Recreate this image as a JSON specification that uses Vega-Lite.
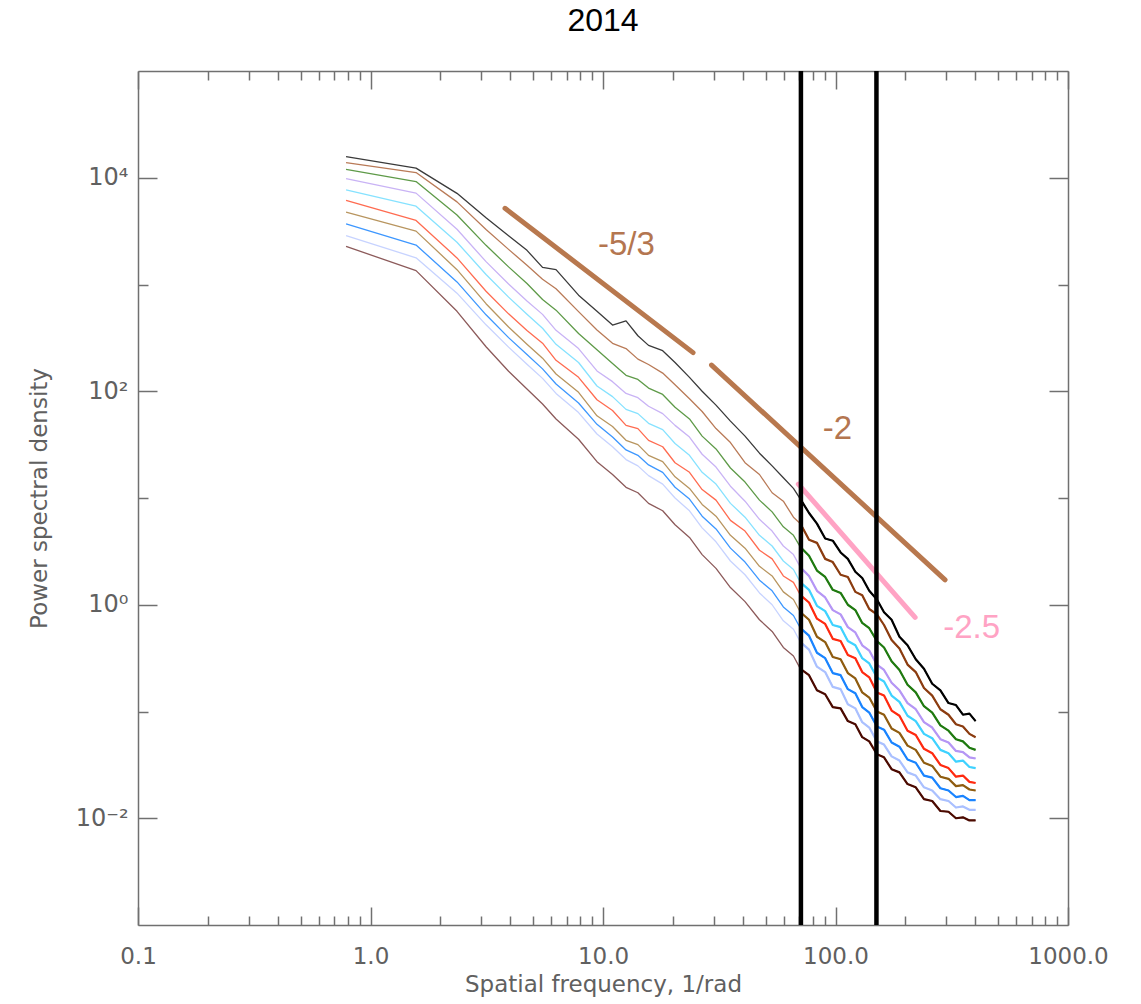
{
"$schema":"https://vega.github.io/schema/vega-lite/v6.json",
"width":930,"height":854,
"autosize":{"type":"none"},
"padding":{"left":138,"top":71,"right":73,"bottom":79},
"background":"white",
"title":{"text":"2014","fontSize":32,"font":"Liberation Sans","fontWeight":"normal","color":"#000000","offset":31,"anchor":"middle"},
"config":{"view":{"stroke":null},"axis":{"grid":false,"domainColor":"#707070","tickColor":"#707070","domainWidth":1.5,"tickWidth":1.5,"labelFont":"DejaVu Sans","labelColor":"#606060","labelFontSize":23,"titleFont":"DejaVu Sans","titleColor":"#606060","titleFontSize":23,"titleFontWeight":"normal"}},
"datasets":{
"spectra":[
{"s":"s1","x":[0.785,1.57,2.355,3.14,3.925,4.71,5.495,6.28,7.85,9.42,10.99,12.56,14.13,15.7,18.06,20.41,23.55,26.69,30.62,35.33,40.82,47.1,53.38,59.66,65.94,70.65,76.93,83.21,90.28,97.34,105.2,113.0,121.7,130.3,139.7,150.7,161.7,174.3,188.4,204.1,221.4,240.2,260.6,282.6,306.2,329.7,353.3,376.8,400.4],"y":[15740,12300,7145,4217,2864,2089,1445,1380,794,562,417,457,331,269,240,186,135,100,74.1,52.5,38.0,26.3,20.0,15.5,12.3,9.77,7.24,5.75,4.17,3.98,3.09,2.69,2.04,1.78,1.35,1.12,0.851,0.724,0.501,0.417,0.309,0.251,0.182,0.158,0.120,0.115,0.0933,0.0955,0.0813]},
{"s":"s2","x":[0.785,1.57,2.355,3.14,3.925,4.71,5.495,6.28,7.85,9.42,10.99,12.56,14.13,15.7,18.06,20.41,23.55,26.69,30.62,35.33,40.82,47.1,53.38,59.66,65.94,70.65,76.93,83.21,90.28,97.34,105.2,113.0,121.7,130.3,139.7,150.7,161.7,174.3,188.4,204.1,221.4,240.2,260.6,282.6,306.2,329.7,353.3,376.8,400.4],"y":[13840,11190,5940,3281,2133,1514,1122,912,557,375,281,251,200,178,148,115,85.1,64.6,44.7,33.1,21.4,16.6,11.2,9.33,6.61,5.75,4.07,3.80,2.69,2.51,1.91,1.82,1.32,1.23,0.912,0.813,0.646,0.468,0.389,0.275,0.234,0.166,0.141,0.105,0.0933,0.0759,0.0724,0.0617,0.0575]},
{"s":"s3","x":[0.785,1.57,2.355,3.14,3.925,4.71,5.495,6.28,7.85,9.42,10.99,12.56,14.13,15.7,18.06,20.41,23.55,26.69,30.62,35.33,40.82,47.1,53.38,59.66,65.94,70.65,76.93,83.21,90.28,97.34,105.2,113.0,121.7,130.3,139.7,150.7,161.7,174.3,188.4,204.1,221.4,240.2,260.6,282.6,306.2,329.7,353.3,376.8,400.4],"y":[12000,9204,4477,2328,1462,1021,724,575,347,245,182,141,129,107,93.3,70.8,55.0,38.0,28.8,19.1,14.1,9.55,7.41,5.37,4.47,3.47,2.88,2.09,1.82,1.38,1.29,1.00,0.891,0.676,0.603,0.457,0.398,0.295,0.245,0.178,0.151,0.112,0.0977,0.0741,0.0661,0.0550,0.0525,0.0457,0.0437]},
{"s":"s4","x":[0.785,1.57,2.355,3.14,3.925,4.71,5.495,6.28,7.85,9.42,10.99,12.56,14.13,15.7,18.06,20.41,23.55,26.69,30.62,35.33,40.82,47.1,53.38,59.66,65.94,70.65,76.93,83.21,90.28,97.34,105.2,113.0,121.7,130.3,139.7,150.7,161.7,174.3,188.4,204.1,221.4,240.2,260.6,282.6,306.2,329.7,353.3,376.8,400.4],"y":[9795,7178,3289,1637,1009,701,525,372,251,155,123,95.5,87.1,72.4,61.7,47.9,37.2,25.7,19.5,12.9,9.33,6.31,4.90,3.55,2.95,2.24,1.86,1.35,1.17,0.891,0.813,0.617,0.550,0.417,0.372,0.275,0.245,0.186,0.158,0.120,0.105,0.0794,0.0708,0.0550,0.0513,0.0427,0.0417,0.0372,0.0363]},
{"s":"s5","x":[0.785,1.57,2.355,3.14,3.925,4.71,5.495,6.28,7.85,9.42,10.99,12.56,14.13,15.7,18.06,20.41,23.55,26.69,30.62,35.33,40.82,47.1,53.38,59.66,65.94,70.65,76.93,83.21,90.28,97.34,105.2,113.0,121.7,130.3,139.7,150.7,161.7,174.3,188.4,204.1,221.4,240.2,260.6,282.6,306.2,329.7,353.3,376.8,400.4],"y":[7709,5420,2489,1242,762,526,389,275,186,112,89.1,67.6,61.7,50.1,43.7,32.4,25.1,17.4,13.5,8.91,6.61,4.47,3.55,2.57,2.14,1.62,1.38,0.977,0.871,0.646,0.617,0.457,0.417,0.316,0.282,0.209,0.191,0.141,0.123,0.0912,0.0813,0.0617,0.0562,0.0437,0.0407,0.0339,0.0347,0.0302,0.0295]},
{"s":"s6","x":[0.785,1.57,2.355,3.14,3.925,4.71,5.495,6.28,7.85,9.42,10.99,12.56,14.13,15.7,18.06,20.41,23.55,26.69,30.62,35.33,40.82,47.1,53.38,59.66,65.94,70.65,76.93,83.21,90.28,97.34,105.2,113.0,121.7,130.3,139.7,150.7,161.7,174.3,188.4,204.1,221.4,240.2,260.6,282.6,306.2,329.7,353.3,376.8,400.4],"y":[6124,3981,1774,865,531,371,282,195,135,83.2,66.1,47.9,44.7,34.7,30.2,21.4,17.4,12.0,9.55,6.17,4.90,3.24,2.69,1.86,1.62,1.23,1.05,0.741,0.661,0.479,0.457,0.339,0.316,0.234,0.209,0.151,0.141,0.102,0.0912,0.0661,0.0603,0.0447,0.0407,0.0316,0.0295,0.0245,0.0251,0.0219,0.0214]},
{"s":"s7","x":[0.785,1.57,2.355,3.14,3.925,4.71,5.495,6.28,7.85,9.42,10.99,12.56,14.13,15.7,18.06,20.41,23.55,26.69,30.62,35.33,40.82,47.1,53.38,59.66,65.94,70.65,76.93,83.21,90.28,97.34,105.2,113.0,121.7,130.3,139.7,150.7,161.7,174.3,188.4,204.1,221.4,240.2,260.6,282.6,306.2,329.7,353.3,376.8,400.4],"y":[4753,3162,1377,661,400,276,204,145,97.7,58.9,46.8,34.7,31.6,25.1,21.9,15.8,12.3,8.71,6.76,4.47,3.39,2.29,1.86,1.32,1.12,0.851,0.724,0.501,0.447,0.324,0.309,0.229,0.204,0.151,0.135,0.100,0.0933,0.0692,0.0631,0.0479,0.0437,0.0331,0.0309,0.0245,0.0234,0.0200,0.0204,0.0186,0.0182]},
{"s":"s8","x":[0.785,1.57,2.355,3.14,3.925,4.71,5.495,6.28,7.85,9.42,10.99,12.56,14.13,15.7,18.06,20.41,23.55,26.69,30.62,35.33,40.82,47.1,53.38,59.66,65.94,70.65,76.93,83.21,90.28,97.34,105.2,113.0,121.7,130.3,139.7,150.7,161.7,174.3,188.4,204.1,221.4,240.2,260.6,282.6,306.2,329.7,353.3,376.8,400.4],"y":[3690,2344,1057,520,318,221,162,117,77.6,49.0,37.2,28.2,25.1,20.4,17.4,12.6,9.77,6.76,5.13,3.39,2.51,1.70,1.35,0.955,0.794,0.603,0.513,0.355,0.316,0.229,0.219,0.162,0.148,0.110,0.0977,0.0724,0.0676,0.0513,0.0468,0.0355,0.0331,0.0251,0.0240,0.0191,0.0182,0.0158,0.0162,0.0148,0.0148]},
{"s":"s9","x":[0.785,1.57,2.355,3.14,3.925,4.71,5.495,6.28,7.85,9.42,10.99,12.56,14.13,15.7,18.06,20.41,23.55,26.69,30.62,35.33,40.82,47.1,53.38,59.66,65.94,70.65,76.93,83.21,90.28,97.34,105.2,113.0,121.7,130.3,139.7,150.7,161.7,174.3,188.4,204.1,221.4,240.2,260.6,282.6,306.2,329.7,353.3,376.8,400.4],"y":[2864,1778,830,419,259,179,132,95.5,63.1,39.8,30.2,22.9,20.0,16.2,13.5,10.0,7.59,5.25,3.89,2.57,1.91,1.29,1.00,0.708,0.589,0.447,0.380,0.263,0.234,0.170,0.162,0.117,0.107,0.0794,0.0708,0.0525,0.0490,0.0380,0.0347,0.0269,0.0251,0.0195,0.0182,0.0151,0.0145,0.0126,0.0129,0.0120,0.0120]},
{"s":"s10","x":[0.785,1.57,2.355,3.14,3.925,4.71,5.495,6.28,7.85,9.42,10.99,12.56,14.13,15.7,18.06,20.41,23.55,26.69,30.62,35.33,40.82,47.1,53.38,59.66,65.94,70.65,76.93,83.21,90.28,97.34,105.2,113.0,121.7,130.3,139.7,150.7,161.7,174.3,188.4,204.1,221.4,240.2,260.6,282.6,306.2,329.7,353.3,376.8,400.4],"y":[2275,1349,561,261,154,105,75.9,55.0,35.5,21.9,16.6,12.6,11.2,8.91,7.59,5.62,4.27,2.95,2.19,1.45,1.07,0.724,0.562,0.398,0.331,0.251,0.219,0.158,0.145,0.110,0.107,0.0813,0.0759,0.0575,0.0525,0.0398,0.0372,0.0288,0.0269,0.0209,0.0195,0.0151,0.0145,0.0117,0.0115,0.0100,0.0102,0.00955,0.00955]}
],
"fits":[
{"f":"a","x":3.79,"y":5176},{"f":"a","x":24.4,"y":230},
{"f":"b","x":29.3,"y":176},{"f":"b","x":296,"y":1.71},
{"f":"c","x":69.2,"y":13.5},{"f":"c","x":220,"y":0.762}
],
"notes":[
{"f":"a","t":"-5/3","x":12.6,"y":2344},
{"f":"b","t":"-2","x":102,"y":44.3},
{"f":"c","t":"-2.5","x":385,"y":0.605}
],
"cuts":[{"x":71},{"x":150}]
},
"resolve":{"axis":{"x":"independent","y":"independent"},"scale":{"color":"independent"}},
"layer":[
{"data":{"name":"spectra"},"transform":[{"flatten":["x","y"]}],
 "mark":{"type":"line","strokeWidth":1.3,"strokeJoin":"round","clip":true},
 "encoding":{
  "x":{"field":"x","type":"quantitative","scale":{"type":"log","domain":[0.1,1000],"nice":false},
   "axis":{"orient":"bottom","values":[0.1,1,10,100,1000],"format":".1f","tickSize":-18,"labelPadding":38,"labelFlush":false,"title":"Spatial frequency, 1/rad","titlePadding":5}},
  "y":{"field":"y","type":"quantitative","scale":{"type":"log","domain":[0.001,100000],"nice":false},
   "axis":{"orient":"left","values":[0.01,1,100,10000],"labelExpr":"datum.value >= 10000 ? '10⁴' : datum.value >= 100 ? '10²' : datum.value >= 1 ? '10⁰' : '10⁻²'","labelFontSize":24,"tickSize":-19,"labelPadding":29,"labelFlush":false,"title":"Power spectral density","titlePadding":24}},
  "color":{"field":"s","type":"nominal","legend":null,"scale":{"domain":["s1","s2","s3","s4","s5","s6","s7","s8","s9","s10"],"range":["#3a3a3a","#b97a57","#5e9a48","#c9b3f5","#86e2ff","#ff6b50","#b8955f","#3d97ff","#c7d3ff","#8c5a5a"]}}
 }},
{"data":{"name":"spectra"},"transform":[{"flatten":["x","y"]},{"filter":"datum.x >= 70"}],
 "mark":{"type":"line","strokeWidth":2.2,"strokeJoin":"round","clip":true},
 "encoding":{
  "x":{"field":"x","type":"quantitative","scale":{"type":"log","domain":[0.1,1000],"nice":false},
   "axis":{"orient":"bottom","values":[0.2,0.3,0.4,0.5,0.6,0.7,0.8,0.9,2,3,4,5,6,7,8,9,20,30,40,50,60,70,80,90,200,300,400,500,600,700,800,900],"tickSize":-9,"labels":false,"domain":false,"title":null}},
  "y":{"field":"y","type":"quantitative","scale":{"type":"log","domain":[0.001,100000],"nice":false},
   "axis":{"orient":"left","values":[0.1,10,1000],"tickSize":-10,"labels":false,"domain":false,"title":null}},
  "color":{"field":"s","type":"nominal","legend":null,"scale":{"domain":["s1","s2","s3","s4","s5","s6","s7","s8","s9","s10"],"range":["#000000","#8b3c10","#1f7a10","#b596f5","#3fd2ff","#ff2a10","#8f5c10","#1a84ff","#aac0ff","#4b0a00"]}}
 }},
{"data":{"name":"fits"},
 "mark":{"type":"line","strokeWidth":5,"strokeCap":"round","clip":true},
 "encoding":{
  "x":{"field":"x","type":"quantitative","scale":{"type":"log","domain":[0.1,1000],"nice":false},
   "axis":{"orient":"top","values":[0.1,1,10,100,1000],"tickSize":-18,"labels":false,"title":null}},
  "y":{"field":"y","type":"quantitative","scale":{"type":"log","domain":[0.001,100000],"nice":false},
   "axis":{"orient":"right","values":[0.01,1,100,10000],"tickSize":-19,"labels":false,"title":null}},
  "color":{"field":"f","type":"nominal","legend":null,"scale":{"domain":["a","b","c"],"range":["#b8784e","#b8784e","#ffa3c4"]}}
 }},
{"data":{"name":"notes"},
 "mark":{"type":"text","font":"Liberation Sans","fontSize":33,"align":"center","baseline":"middle"},
 "encoding":{
  "x":{"field":"x","type":"quantitative","scale":{"type":"log","domain":[0.1,1000],"nice":false},
   "axis":{"orient":"top","values":[0.2,0.3,0.4,0.5,0.6,0.7,0.8,0.9,2,3,4,5,6,7,8,9,20,30,40,50,60,70,80,90,200,300,400,500,600,700,800,900],"tickSize":-9,"labels":false,"domain":false,"title":null}},
  "y":{"field":"y","type":"quantitative","scale":{"type":"log","domain":[0.001,100000],"nice":false},
   "axis":{"orient":"right","values":[0.1,10,1000],"tickSize":-10,"labels":false,"domain":false,"title":null}},
  "text":{"field":"t","type":"nominal"},
  "color":{"field":"f","type":"nominal","legend":null,"scale":{"domain":["a","b","c"],"range":["#b47650","#b47650","#ffa3c4"]}}
 }},
{"data":{"name":"cuts"},
 "mark":{"type":"rule","strokeWidth":4.5,"color":"#000000"},
 "encoding":{
  "x":{"field":"x","type":"quantitative","scale":{"type":"log","domain":[0.1,1000],"nice":false},"axis":null}
 }}
]
}
